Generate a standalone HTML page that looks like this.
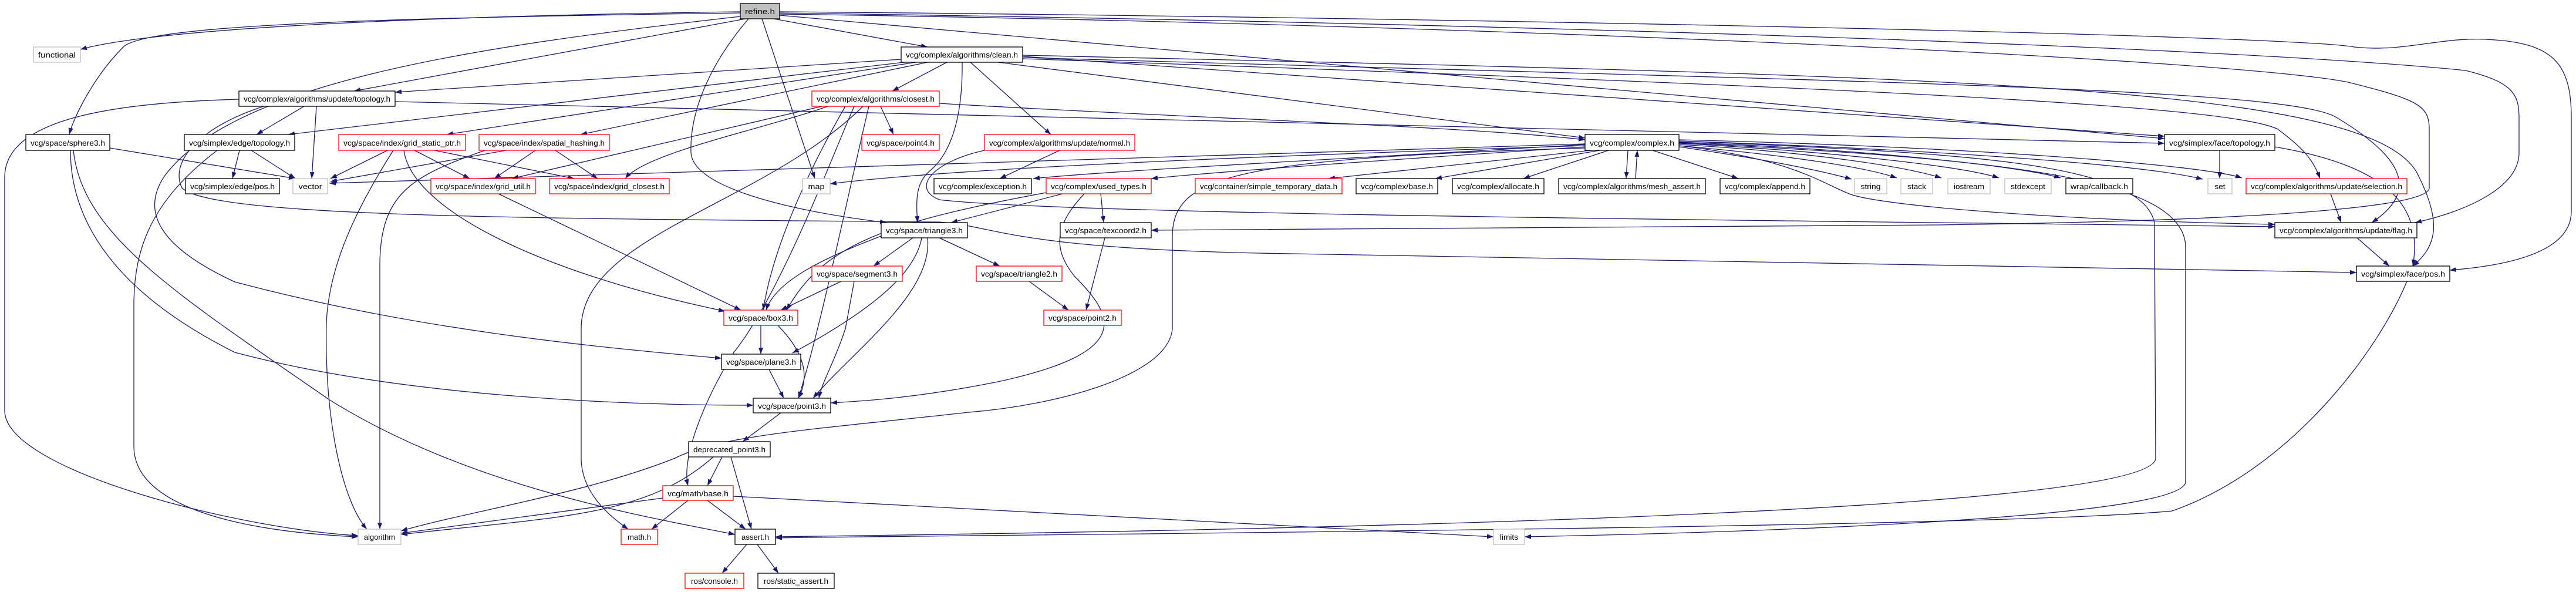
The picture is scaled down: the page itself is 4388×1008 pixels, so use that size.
<!DOCTYPE html>
<html><head><meta charset="utf-8"><style>
html,body{margin:0;padding:0;background:#fff}
svg{display:block}
text{font-family:"Liberation Sans",sans-serif;font-size:13px;fill:#000}
.e{fill:none;stroke:#191970;stroke-width:1.3}
.b{fill:#fff;stroke:#000;stroke-width:1.3}
.r{fill:#fff;stroke:#ff0000;stroke-width:1.3}
.g{fill:#fff;stroke:#bfbfbf;stroke-width:1.3}
</style></head><body>
<svg width="4388" height="1008" viewBox="0 0 4388 1008" xmlns="http://www.w3.org/2000/svg">
<defs><marker id="a" markerUnits="userSpaceOnUse" markerWidth="12" markerHeight="9" refX="11" refY="4" orient="auto"><path d="M0,0 L11,4 L0,8 z" fill="#191970"/></marker></defs>
<g class="e" marker-end="url(#a)">
<path d="M1261,20 C900,25 300,40 137,84"/>
<path d="M1261,22 C700,30 250,40 210,80 C160,130 125,200 118,229"/>
<path d="M1270,32 L603,155"/>
<path d="M1318,32 L1580,80"/>
<path d="M1298,32 L1388,304"/>
<path d="M1275,32 C1200,120 1175,200 1177,260 C1180,320 1350,360 1510,379"/>
<path d="M1261,28 C800,80 400,140 280,300 C240,360 270,420 400,480 C700,560 1000,590 1229,610"/>
<path d="M1328,26 L3687,236"/>
<path d="M1328,22 C2600,40 3800,80 4200,120 C4280,140 4291,160 4291,200 L4291,260 C4291,320 4200,360 4114,379"/>
<path d="M1328,20 C2500,30 3900,60 4010,80 C4100,90 4160,60 4250,68 C4350,75 4380,110 4380,200 L4380,360 C4380,420 4300,450 4173,460"/>
<path d="M1328,24 C2500,40 3800,100 4000,140 C4120,170 4138,180 4138,220 L4138,320 C4138,350 3900,375 3300,383 L1961,392"/>
<path d="M1535,101 L673,157"/>
<path d="M1540,106 L491,229"/>
<path d="M1560,106 L761,229"/>
<path d="M1580,106 L989,229"/>
<path d="M1613,106 L1520,155"/>
<path d="M1653,106 L1790,229"/>
<path d="M1700,106 L2700,235"/>
<path d="M1742,96 L3687,232"/>
<path d="M1742,100 C3200,150 3800,180 3880,220 C3920,250 3940,270 3952,304"/>
<path d="M1742,98 C3200,140 3900,150 3980,200 C4080,260 4130,320 4040,379"/>
<path d="M1742,94 C3300,130 4050,140 4120,300 C4160,380 4150,420 4110,453"/>
<path d="M1639,106 C1640,200 1620,260 1585,290 C1560,310 1560,340 1563,379"/>
<path d="M2700,245 L561,312"/>
<path d="M1500,181 L1522,229"/>
<path d="M1400,181 L872,304"/>
<path d="M1410,181 C1300,220 1100,260 1065,304"/>
<path d="M1440,181 C1400,250 1320,400 1300,528"/>
<path d="M1480,181 C1440,350 1400,550 1360,678"/>
<path d="M1455,181 C1420,260 1330,500 1250,600 C1200,680 1160,780 1172,827"/>
<path d="M1470,181 C1300,350 990,400 990,560 L990,780 C990,840 1040,880 1070,901"/>
<path d="M1600,176 C2000,200 2500,215 2700,238"/>
<path d="M518,181 L437,229"/>
<path d="M539,181 L531,304"/>
<path d="M407,169 C200,175 10,200 8,300 L8,700 C10,800 400,900 610,912"/>
<path d="M673,173 L3687,244"/>
<path d="M449,181 C330,220 290,280 310,320 C360,370 900,372 1600,378 C1700,385 1720,425 2200,432 L4014,464"/>
<path d="M1677,256 C1590,275 1550,320 1600,340 C1800,365 3000,375 3875,386"/>
<path d="M2860,248 C3050,270 3100,310 3150,330 C3200,350 3500,375 3875,382"/>
<path d="M408,256 L396,304"/>
<path d="M428,256 L503,304"/>
<path d="M370,256 C260,340 228,420 228,520 L228,760 C228,860 400,905 610,914"/>
<path d="M187,252 L503,304"/>
<path d="M120,256 C120,380 200,500 400,600 C700,680 1100,690 1283,690"/>
<path d="M125,256 C140,400 300,500 560,680 C800,830 1100,880 1252,910"/>
<path d="M660,256 L563,304"/>
<path d="M706,256 L800,304"/>
<path d="M740,256 L978,304"/>
<path d="M688,256 C700,350 900,460 1235,530"/>
<path d="M670,256 C610,350 560,450 556,550 C552,700 580,850 625,901"/>
<path d="M862,256 L563,309"/>
<path d="M912,256 L842,304"/>
<path d="M946,256 L1018,304"/>
<path d="M826,256 C700,300 648,330 647,450 L647,901"/>
<path d="M849,330 L1262,528"/>
<path d="M1805,256 L1703,304"/>
<path d="M2700,248 C2000,270 1600,290 1414,313"/>
<path d="M2700,246 C2300,270 1900,290 1760,304"/>
<path d="M2700,250 C2400,270 2100,290 1961,304"/>
<path d="M2710,256 L2263,304"/>
<path d="M2725,256 L2445,304"/>
<path d="M2740,256 L2595,304"/>
<path d="M2773,256 L2770,304"/>
<path d="M2786,304 L2789,256"/>
<path d="M2815,256 L2961,304"/>
<path d="M2860,250 C3000,270 3100,290 3154,305"/>
<path d="M2860,248 C3050,265 3180,285 3231,303"/>
<path d="M2860,246 C3100,260 3250,285 3307,303"/>
<path d="M2860,244 C3150,260 3350,285 3405,303"/>
<path d="M2860,242 C3200,255 3450,285 3510,303"/>
<path d="M2860,240 C3300,255 3650,280 3752,305"/>
<path d="M2860,238 C3350,250 3750,280 3819,303"/>
<path d="M2860,240 C3300,260 3650,270 3670,380 L3672,780 C3672,880 2000,905 1321,914"/>
<path d="M2860,243 C3400,270 3720,300 3723,420 L3723,820 C3723,890 2800,910 2597,914"/>
<path d="M2700,252 C2100,270 2000,300 1997,400 L1997,560 C1990,640 1800,690 1650,702 C1400,730 1230,740 1150,780 C1000,840 800,870 683,904"/>
<path d="M1810,330 L1620,379"/>
<path d="M1782,328 C1500,380 1400,420 1340,528"/>
<path d="M1847,330 C1800,380 1790,420 1830,470 C1900,540 1930,600 1700,650 C1550,680 1450,684 1415,686"/>
<path d="M1875,330 L1880,379"/>
<path d="M1555,405 L1488,453"/>
<path d="M1600,405 L1703,453"/>
<path d="M1501,402 C1400,440 1320,480 1305,528"/>
<path d="M1570,405 C1560,460 1500,520 1350,601"/>
<path d="M1580,405 C1590,500 1450,600 1385,678"/>
<path d="M1433,479 L1330,528"/>
<path d="M1455,479 L1440,560 C1420,620 1400,650 1395,678"/>
<path d="M1753,479 L1820,528"/>
<path d="M1882,405 L1850,528"/>
<path d="M1296,554 L1296,603"/>
<path d="M1325,554 C1370,600 1380,640 1360,678"/>
<path d="M1310,629 L1335,678"/>
<path d="M1330,703 L1265,752"/>
<path d="M1230,778 L1205,827"/>
<path d="M1245,778 L1280,901"/>
<path d="M1215,778 C1100,880 950,880 683,910"/>
<path d="M1129,848 L683,908"/>
<path d="M1172,852 L1110,901"/>
<path d="M1205,852 L1270,901"/>
<path d="M1249,845 L2544,914"/>
<path d="M1272,927 L1230,976"/>
<path d="M1290,927 L1326,976"/>
<path d="M3781,256 L3781,304"/>
<path d="M3875,250 C4050,280 4130,340 4110,453"/>
<path d="M3970,330 L3988,379"/>
<path d="M4015,405 L4070,453"/>
<path d="M4100,479 C4050,600 3900,800 3700,870 C3400,900 1500,912 1321,916"/>
</g>
<g>
<rect x="1261" y="6" width="67" height="26" fill="#bfbfbf" stroke="#000" stroke-width="1.3"/><text x="1294.5" y="24" text-anchor="middle" textLength="51" lengthAdjust="spacingAndGlyphs">refine.h</text>
<rect class="g" x="57" y="80" width="80" height="26"/><text x="97" y="98" text-anchor="middle" textLength="64" lengthAdjust="spacingAndGlyphs">functional</text>
<rect class="b" x="1535" y="80" width="207" height="26"/><text x="1638.5" y="98" text-anchor="middle" textLength="191" lengthAdjust="spacingAndGlyphs">vcg/complex/algorithms/clean.h</text>
<rect class="b" x="407" y="155" width="266" height="26"/><text x="540" y="173" text-anchor="middle" textLength="250" lengthAdjust="spacingAndGlyphs">vcg/complex/algorithms/update/topology.h</text>
<rect class="r" x="1383" y="155" width="217" height="26"/><text x="1491.5" y="173" text-anchor="middle" textLength="201" lengthAdjust="spacingAndGlyphs">vcg/complex/algorithms/closest.h</text>
<rect class="b" x="44" y="229" width="143" height="27"/><text x="115.5" y="248" text-anchor="middle" textLength="127" lengthAdjust="spacingAndGlyphs">vcg/space/sphere3.h</text>
<rect class="b" x="314" y="229" width="188" height="27"/><text x="408" y="248" text-anchor="middle" textLength="172" lengthAdjust="spacingAndGlyphs">vcg/simplex/edge/topology.h</text>
<rect class="r" x="577" y="229" width="216" height="27"/><text x="685" y="248" text-anchor="middle" textLength="200" lengthAdjust="spacingAndGlyphs">vcg/space/index/grid_static_ptr.h</text>
<rect class="r" x="816" y="229" width="222" height="27"/><text x="927" y="248" text-anchor="middle" textLength="206" lengthAdjust="spacingAndGlyphs">vcg/space/index/spatial_hashing.h</text>
<rect class="r" x="1468" y="229" width="132" height="27"/><text x="1534" y="248" text-anchor="middle" textLength="116" lengthAdjust="spacingAndGlyphs">vcg/space/point4.h</text>
<rect class="r" x="1677" y="229" width="256" height="27"/><text x="1805" y="248" text-anchor="middle" textLength="240" lengthAdjust="spacingAndGlyphs">vcg/complex/algorithms/update/normal.h</text>
<rect class="b" x="2700" y="229" width="160" height="27"/><text x="2780" y="248" text-anchor="middle" textLength="144" lengthAdjust="spacingAndGlyphs">vcg/complex/complex.h</text>
<rect class="b" x="3687" y="229" width="188" height="27"/><text x="3781" y="248" text-anchor="middle" textLength="172" lengthAdjust="spacingAndGlyphs">vcg/simplex/face/topology.h</text>
<rect class="b" x="316" y="304" width="160" height="26"/><text x="396" y="322" text-anchor="middle" textLength="144" lengthAdjust="spacingAndGlyphs">vcg/simplex/edge/pos.h</text>
<rect class="g" x="499" y="304" width="59" height="26"/><text x="528.5" y="322" text-anchor="middle" textLength="40" lengthAdjust="spacingAndGlyphs">vector</text>
<rect class="r" x="734" y="304" width="178" height="26"/><text x="823" y="322" text-anchor="middle" textLength="162" lengthAdjust="spacingAndGlyphs">vcg/space/index/grid_util.h</text>
<rect class="r" x="936" y="304" width="204" height="26"/><text x="1038" y="322" text-anchor="middle" textLength="188" lengthAdjust="spacingAndGlyphs">vcg/space/index/grid_closest.h</text>
<rect class="g" x="1367" y="304" width="47" height="26"/><text x="1390.5" y="322" text-anchor="middle" textLength="28" lengthAdjust="spacingAndGlyphs">map</text>
<rect class="b" x="1591" y="304" width="166" height="26"/><text x="1674" y="322" text-anchor="middle" textLength="150" lengthAdjust="spacingAndGlyphs">vcg/complex/exception.h</text>
<rect class="r" x="1782" y="304" width="179" height="26"/><text x="1871.5" y="322" text-anchor="middle" textLength="163" lengthAdjust="spacingAndGlyphs">vcg/complex/used_types.h</text>
<rect class="r" x="2036" y="304" width="250" height="26"/><text x="2161" y="322" text-anchor="middle" textLength="234" lengthAdjust="spacingAndGlyphs">vcg/container/simple_temporary_data.h</text>
<rect class="b" x="2310" y="304" width="139" height="26"/><text x="2379.5" y="322" text-anchor="middle" textLength="123" lengthAdjust="spacingAndGlyphs">vcg/complex/base.h</text>
<rect class="b" x="2474" y="304" width="156" height="26"/><text x="2552" y="322" text-anchor="middle" textLength="140" lengthAdjust="spacingAndGlyphs">vcg/complex/allocate.h</text>
<rect class="b" x="2655" y="304" width="250" height="26"/><text x="2780" y="322" text-anchor="middle" textLength="234" lengthAdjust="spacingAndGlyphs">vcg/complex/algorithms/mesh_assert.h</text>
<rect class="b" x="2930" y="304" width="153" height="26"/><text x="3006.5" y="322" text-anchor="middle" textLength="137" lengthAdjust="spacingAndGlyphs">vcg/complex/append.h</text>
<rect class="g" x="3159" y="304" width="55" height="26"/><text x="3186.5" y="322" text-anchor="middle" textLength="34" lengthAdjust="spacingAndGlyphs">string</text>
<rect class="g" x="3238" y="304" width="54" height="26"/><text x="3265" y="322" text-anchor="middle" textLength="32" lengthAdjust="spacingAndGlyphs">stack</text>
<rect class="g" x="3318" y="304" width="72" height="26"/><text x="3354" y="322" text-anchor="middle" textLength="52" lengthAdjust="spacingAndGlyphs">iostream</text>
<rect class="g" x="3415" y="304" width="79" height="26"/><text x="3454.5" y="322" text-anchor="middle" textLength="59" lengthAdjust="spacingAndGlyphs">stdexcept</text>
<rect class="b" x="3519" y="304" width="114" height="26"/><text x="3576" y="322" text-anchor="middle" textLength="98" lengthAdjust="spacingAndGlyphs">wrap/callback.h</text>
<rect class="g" x="3761" y="304" width="41" height="26"/><text x="3781.5" y="322" text-anchor="middle" textLength="18" lengthAdjust="spacingAndGlyphs">set</text>
<rect class="r" x="3826" y="304" width="274" height="26"/><text x="3963" y="322" text-anchor="middle" textLength="258" lengthAdjust="spacingAndGlyphs">vcg/complex/algorithms/update/selection.h</text>
<rect class="b" x="1501" y="379" width="147" height="26"/><text x="1574.5" y="397" text-anchor="middle" textLength="131" lengthAdjust="spacingAndGlyphs">vcg/space/triangle3.h</text>
<rect class="b" x="1806" y="379" width="155" height="26"/><text x="1883.5" y="397" text-anchor="middle" textLength="139" lengthAdjust="spacingAndGlyphs">vcg/space/texcoord2.h</text>
<rect class="b" x="3875" y="379" width="242" height="26"/><text x="3996" y="397" text-anchor="middle" textLength="226" lengthAdjust="spacingAndGlyphs">vcg/complex/algorithms/update/flag.h</text>
<rect class="r" x="1383" y="453" width="154" height="26"/><text x="1460" y="471" text-anchor="middle" textLength="138" lengthAdjust="spacingAndGlyphs">vcg/space/segment3.h</text>
<rect class="r" x="1663" y="453" width="146" height="26"/><text x="1736" y="471" text-anchor="middle" textLength="130" lengthAdjust="spacingAndGlyphs">vcg/space/triangle2.h</text>
<rect class="b" x="4014" y="453" width="159" height="26"/><text x="4093.5" y="471" text-anchor="middle" textLength="143" lengthAdjust="spacingAndGlyphs">vcg/simplex/face/pos.h</text>
<rect class="r" x="1233" y="528" width="126" height="26"/><text x="1296" y="546" text-anchor="middle" textLength="110" lengthAdjust="spacingAndGlyphs">vcg/space/box3.h</text>
<rect class="r" x="1778" y="528" width="132" height="26"/><text x="1844" y="546" text-anchor="middle" textLength="116" lengthAdjust="spacingAndGlyphs">vcg/space/point2.h</text>
<rect class="b" x="1229" y="603" width="135" height="26"/><text x="1296.5" y="621" text-anchor="middle" textLength="119" lengthAdjust="spacingAndGlyphs">vcg/space/plane3.h</text>
<rect class="b" x="1283" y="678" width="132" height="25"/><text x="1349" y="696" text-anchor="middle" textLength="116" lengthAdjust="spacingAndGlyphs">vcg/space/point3.h</text>
<rect class="b" x="1173" y="752" width="139" height="26"/><text x="1242.5" y="770" text-anchor="middle" textLength="123" lengthAdjust="spacingAndGlyphs">deprecated_point3.h</text>
<rect class="r" x="1129" y="827" width="120" height="25"/><text x="1189" y="845" text-anchor="middle" textLength="104" lengthAdjust="spacingAndGlyphs">vcg/math/base.h</text>
<rect class="g" x="610" y="901" width="73" height="26"/><text x="646.5" y="919" text-anchor="middle" textLength="53" lengthAdjust="spacingAndGlyphs">algorithm</text>
<rect class="r" x="1058" y="901" width="62" height="26"/><text x="1089" y="919" text-anchor="middle" textLength="40" lengthAdjust="spacingAndGlyphs">math.h</text>
<rect class="b" x="1252" y="901" width="69" height="26"/><text x="1286.5" y="919" text-anchor="middle" textLength="47" lengthAdjust="spacingAndGlyphs">assert.h</text>
<rect class="g" x="2544" y="901" width="53" height="26"/><text x="2570.5" y="919" text-anchor="middle" textLength="31" lengthAdjust="spacingAndGlyphs">limits</text>
<rect class="r" x="1167" y="976" width="100" height="26"/><text x="1217" y="994" text-anchor="middle" textLength="80" lengthAdjust="spacingAndGlyphs">ros/console.h</text>
<rect class="b" x="1291" y="976" width="130" height="26"/><text x="1356" y="994" text-anchor="middle" textLength="110" lengthAdjust="spacingAndGlyphs">ros/static_assert.h</text>
</g>
</svg>
</body></html>
